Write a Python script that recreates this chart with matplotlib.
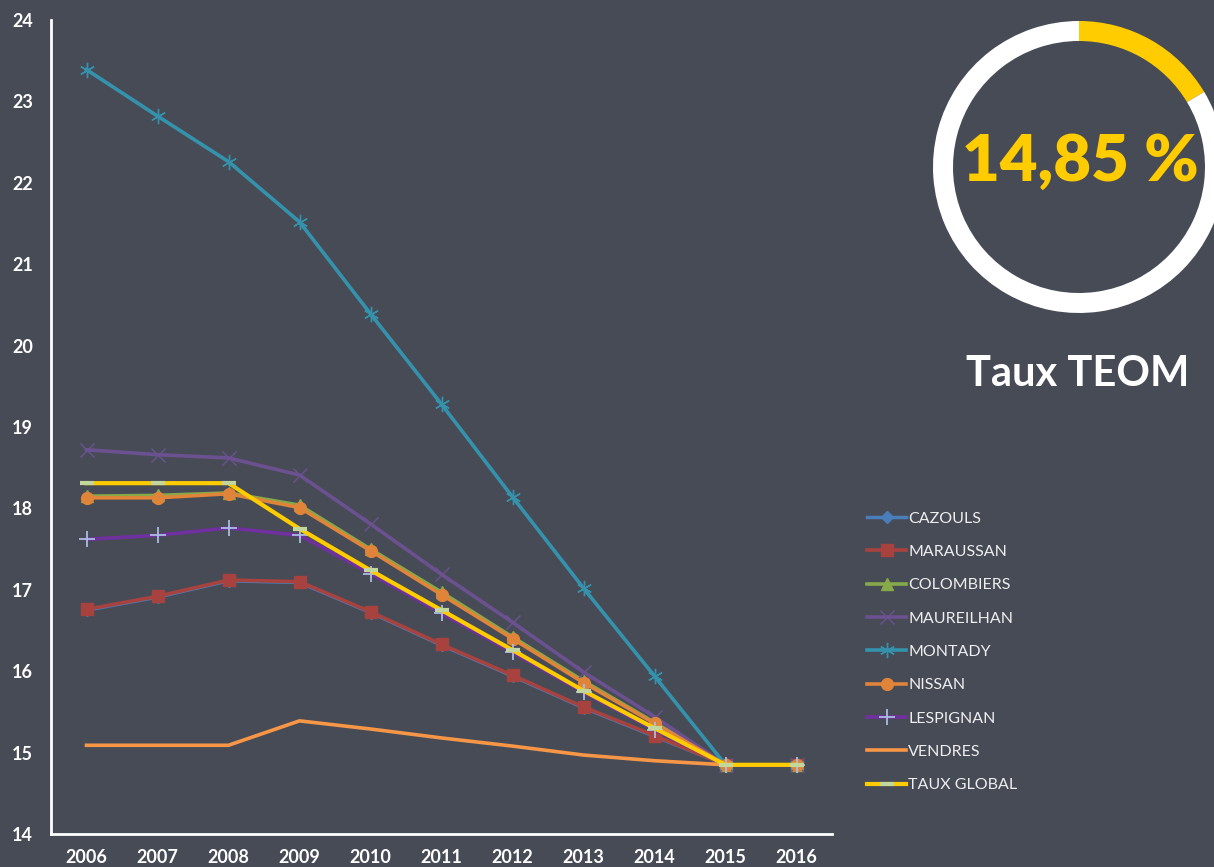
import numpy as np
import matplotlib
matplotlib.use("Agg")
import matplotlib.pyplot as plt

plt.rcParams['font.family'] = ['Lato', 'DejaVu Sans']

years = ['2006', '2007', '2008', '2009', '2010', '2011', '2012', '2013', '2014', '2015', '2016']

cazouls     = [16.75, 16.91, 17.11, 17.09, 16.72, 16.32, 15.94, 15.55, 15.20, 14.85, 14.85]
maraussan   = [16.76, 16.92, 17.12, 17.10, 16.73, 16.33, 15.95, 15.56, 15.21, 14.85, 14.85]
colombiers  = [18.15, 18.16, 18.19, 18.04, 17.50, 16.97, 16.42, 15.88, 15.37, 14.85, 14.85]
maureilhan  = [18.72, 18.66, 18.62, 18.41, 17.81, 17.19, 16.60, 15.99, 15.44, 14.85, 14.85]
montady     = [23.39, 22.82, 22.26, 21.52, 20.39, 19.28, 18.14, 17.02, 15.94, 14.85, 14.85]
nissan      = [18.13, 18.13, 18.18, 18.01, 17.48, 16.94, 16.40, 15.86, 15.36, 14.85, 14.85]
lespignan   = [17.62, 17.67, 17.76, 17.67, 17.20, 16.71, 16.23, 15.74, 15.28, 14.85, 14.85]
vendres     = [15.09, 15.09, 15.09, 15.39, 15.29, 15.18, 15.08, 14.97, 14.90, 14.85, 14.85]
taux_global = [18.31, 18.31, 18.31, 17.75, 17.24, 16.75, 16.26, 15.76, 15.30, 14.85, 14.85]

taux_teom = 14.85
ring_share = 0.164   # filled part of the ring

bg = '#474b56'

fig = plt.figure(figsize=(12.14, 8.67), dpi=100, facecolor=bg)
ax = fig.add_axes([51/1214, 33/867, 781/1214, 814/867])
ax.set_facecolor(bg)

x = np.arange(len(years))

ax.plot(x, cazouls, color='#4a7ebb', lw=2.5, marker='D', ms=6, label='CAZOULS')
ax.plot(x, maraussan, color='#a8423f', lw=2.6, marker='s', ms=8.5, label='MARAUSSAN')
ax.plot(x, colombiers, color='#86a94a', lw=2.6, marker='^', ms=8, label='COLOMBIERS')
ax.plot(x, maureilhan, color='#6b5190', lw=2.6, marker='x', ms=10, mew=1, label='MAUREILHAN')
ax.plot(x, montady, color='#3592ad', lw=2.6, marker=(6, 2, 0), ms=11, mew=1, label='MONTADY')
ax.plot(x, nissan, color='#e0843a', lw=2.6, marker='o', ms=8.5, label='NISSAN')
ax.plot(x, lespignan, color='#7030a0', lw=2.6, marker='+', ms=11, mew=1.3, mec='#a9bde0', label='LESPIGNAN')
ax.plot(x, vendres, color='#f79646', lw=2.6, label='VENDRES')
ax.plot(x, taux_global, color='#ffcc00', lw=3, marker='_', ms=10, mew=3, mec='#c3d69b', label='TAUX GLOBAL')

ax.set_xlim(-0.5, len(years) - 0.5)
ax.set_ylim(14, 24)
ax.set_xticks(x)
ax.set_xticklabels(years)
ax.set_yticks(range(14, 25))
ax.tick_params(length=0, colors='white', labelsize=13)
ax.tick_params(axis='y', pad=13)
ax.tick_params(axis='x', pad=11)
for lab in ax.get_xticklabels() + ax.get_yticklabels():
    lab.set_fontweight('bold')

for side in ['top', 'right']:
    ax.spines[side].set_visible(False)
for side in ['left', 'bottom']:
    ax.spines[side].set_color('white')
    ax.spines[side].set_linewidth(2)

leg = ax.legend(loc='upper left', bbox_to_anchor=(853/1214, 1 - 497/867),
                bbox_transform=fig.transFigure, frameon=False, numpoints=1,
                fontsize=11.5, labelcolor='#eeeeee', handlelength=2.4,
                handletextpad=0.15, labelspacing=1.2)

# donut in top right
dax = fig.add_axes([(1079 - 150)/1214, (867 - 167 - 150)/867, 300/1214, 300/867])
dax.pie([ring_share, 1 - ring_share], colors=['#ffcc00', 'white'], startangle=90,
        counterclock=False, radius=146/150,
        wedgeprops=dict(width=20/150, linewidth=0))
dax.set_xlim(-1, 1)
dax.set_ylim(-1, 1)
dax.set_aspect('equal')
dax.axis('off')

fig.text(1080/1214, 1 - 162/867, f'{taux_teom:.2f} %'.replace('.', ','),
         color='#ffcc00', fontsize=47, fontweight='heavy', ha='center', va='center')
fig.text(1078/1214, 1 - 374/867, 'Taux TEOM', color='white', fontsize=30,
         fontweight='bold', ha='center', va='center')

fig.savefig('out.png', dpi=100, facecolor=bg)
